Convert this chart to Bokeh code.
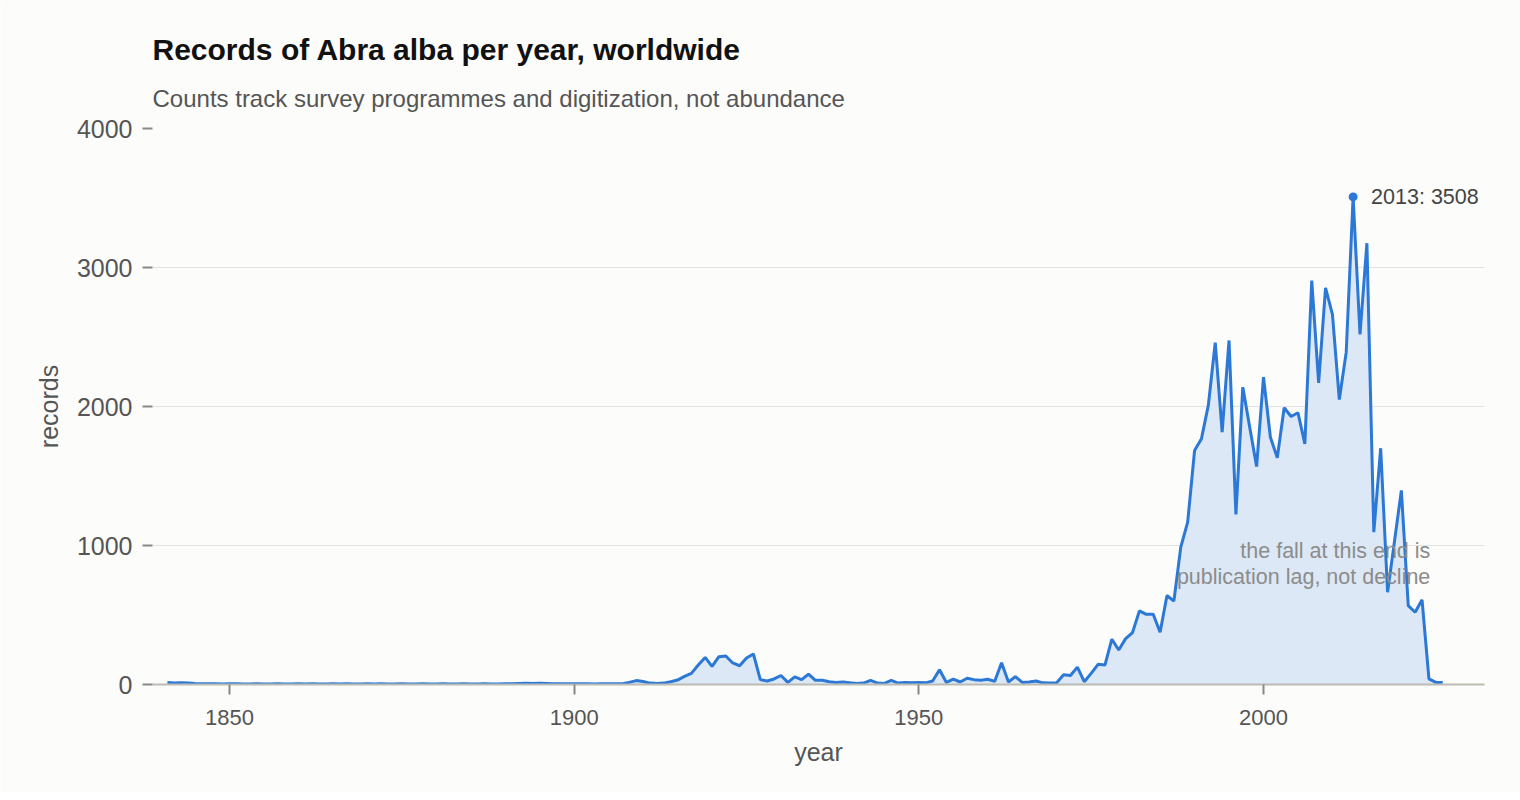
from bokeh.plotting import figure
from bokeh.models import Range1d, Title, Label, FixedTicker
from bokeh.embed import file_html
from bokeh.resources import INLINE

years = list(range(1841, 2027))
records = [
    14, 10, 12, 11, 8, 6, 5, 5, 4, 5,          # 1841-1850
    5, 4, 4, 5, 4, 4, 5, 4, 4, 5,              # 1851-1860
    4, 5, 4, 4, 5, 4, 5, 4, 4, 5,              # 1861-1870
    4, 5, 4, 4, 5, 4, 4, 5, 4, 4,              # 1871-1880
    5, 4, 4, 5, 4, 4, 5, 4, 4, 5,              # 1881-1890
    5, 8, 9, 8, 9, 8, 6, 5, 6, 5,              # 1891-1900
    5, 5, 4, 5, 6, 6, 6, 15, 28, 22,           # 1901-1910
    10, 8, 10, 20, 32, 58, 80, 140, 195, 130,  # 1911-1920
    200, 205, 155, 135, 190, 220, 35, 25, 40, 65,  # 1921-1930
    15, 55, 35, 75, 30, 30, 20, 15, 18, 12,    # 1931-1940
    8, 10, 30, 10, 8, 30, 10, 15, 12, 15,      # 1941-1950
    12, 25, 106, 15, 38, 18, 45, 35, 30, 38,   # 1951-1960
    22, 156, 18, 57, 15, 18, 25, 12, 10, 12,   # 1961-1970
    70, 65, 125, 20, 80, 145, 140, 326, 248, 330,  # 1971-1980
    374, 530, 505, 505, 376, 640, 600, 988, 1168, 1683,  # 1981-1990
    1768, 2010, 2460, 1815, 2475, 1223, 2139, 1851, 1568, 2211,  # 1991-2000
    1779, 1631, 1991, 1928, 1955, 1731, 2906, 2170, 2853, 2662,  # 2001-2010
    2050, 2391, 3508, 2518, 3175, 1096, 1700, 664, 1030, 1396,   # 2011-2020
    568, 520, 609, 41, 15, 15,                 # 2021-2026
]
y_ticks = [0, 1000, 2000, 3000, 4000]
x_ticks = [1850, 1900, 1950, 2000]

title_text = "Records of Abra alba per year, worldwide"
subtitle_text = "Counts track survey programmes and digitization, not abundance"
note_lines = ["the fall at this end is", "publication lag, not decline"]

BG = "#fcfcfa"
BLUE = "#2b78d6"
FONT = "Liberation Sans"

p = figure(width=1520, height=792, output_backend="svg", toolbar_location=None,
           x_range=Range1d(1838.83, 2032.06), y_range=Range1d(0, 4000),
           min_border_left=152, min_border_right=36, min_border_top=128,
           min_border_bottom=108)
p.background_fill_color = BG
p.border_fill_color = BG
p.outline_line_color = None

p.title.text = title_text
p.title.text_font = FONT
p.title.text_font_size = "30px"
p.title.text_font_style = "bold"
p.title.text_color = "#111111"
p.title.align = "left"
p.title.standoff = 0

sub = Title(text=subtitle_text, text_font=FONT, text_font_size="24px",
            text_font_style="normal", text_color="#555555", align="left",
            standoff=34)
p.add_layout(sub, "above")

p.varea(x=years, y1=[0] * len(years), y2=records, fill_color="#dce8f5", fill_alpha=1.0)
p.line(years, records, line_color=BLUE, line_width=3)

i_max = max(range(len(records)), key=lambda i: records[i])
p.scatter([years[i_max]], [records[i_max]], size=9, fill_color=BLUE, line_color=None)
p.add_layout(Label(x=years[i_max], y=records[i_max], x_offset=18,
                   text=f"{years[i_max]}: {records[i_max]}", text_font=FONT,
                   text_font_size="21.5px", text_color="#444444",
                   text_baseline="middle", text_align="left"))

p.add_layout(Label(x=2024.2, y=957, text=note_lines[0], text_font=FONT,
                   text_font_size="21.5px", text_color="#8c8c8c",
                   text_align="right", text_baseline="alphabetic"))
p.add_layout(Label(x=2024.2, y=770, text=note_lines[1], text_font=FONT,
                   text_font_size="21.5px", text_color="#8c8c8c",
                   text_align="right", text_baseline="alphabetic"))

p.xgrid.grid_line_color = None
p.ygrid.grid_line_color = "#e2e2e0"
p.ygrid.grid_line_width = 1.2
p.ygrid.ticker = FixedTicker(ticks=y_ticks)

p.yaxis.ticker = FixedTicker(ticks=y_ticks)
p.xaxis.ticker = FixedTicker(ticks=x_ticks)
for ax in (p.xaxis[0], p.yaxis[0]):
    ax.major_label_text_font = FONT
    ax.major_label_text_color = "#555555"
    ax.axis_label_text_font = FONT
    ax.axis_label_text_font_size = "25px"
    ax.axis_label_text_font_style = "normal"
    ax.axis_label_text_color = "#555555"
    ax.major_tick_in = 0
    ax.major_tick_out = 10
    ax.major_tick_line_color = "#888888"
    ax.major_tick_line_width = 2
    ax.minor_tick_line_color = None

p.xaxis.major_label_text_font_size = "22px"
p.yaxis.major_label_text_font_size = "25px"
p.yaxis.axis_line_color = None
p.yaxis.axis_label = "records"
p.yaxis.major_label_standoff = 10
p.yaxis.axis_label_standoff = 11
p.xaxis.axis_line_color = "#bcbcb4"
p.xaxis.axis_line_width = 2
p.xaxis.axis_label = "year"
p.xaxis.major_label_standoff = 15
p.xaxis.axis_label_standoff = 10

open("out.html", "w").write(file_html(p, INLINE))
